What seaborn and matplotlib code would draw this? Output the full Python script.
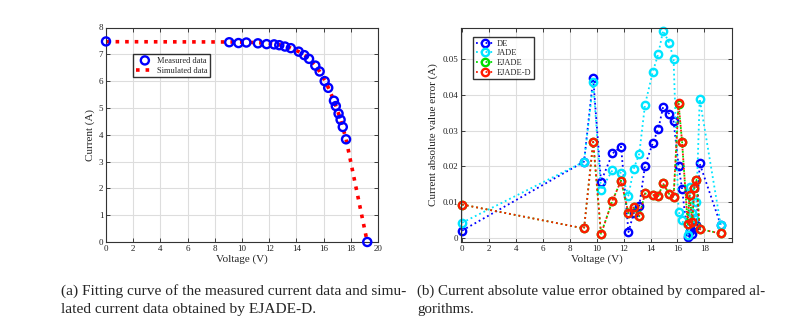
import matplotlib
matplotlib.use('Agg')
import matplotlib.pyplot as plt
import pandas as pd
import seaborn as sns

# Measured I-V data (voltage in V, current in A)
voltage = [0, 9.06, 9.74, 10.32, 11.17, 11.81, 12.36, 12.74, 13.16, 13.59, 14.17, 14.58,
           14.93, 15.39, 15.71, 16.08, 16.34, 16.76, 16.9, 17.1, 17.25, 17.41, 17.65, 19.21]
current_measured = [7.48, 7.45, 7.42, 7.44, 7.41, 7.38, 7.37, 7.34, 7.29, 7.23, 7.10, 6.97,
                    6.83, 6.58, 6.36, 6.00, 5.75, 5.27, 5.07, 4.79, 4.56, 4.29, 3.83, 0.0]
current_simulated = [7.471, 7.460, 7.457, 7.451, 7.434, 7.410, 7.385, 7.358, 7.304, 7.234, 7.100, 6.978,
                     6.845, 6.578, 6.357, 6.035, 5.766, 5.267, 5.074, 4.786, 4.551, 4.276, 3.838, 0.0]

# Absolute current error per algorithm
err_de = [0.0020, 0.0213, 0.0447, 0.0157, 0.0236, 0.0255, 0.0016, 0.0068, 0.0089, 0.0202, 0.0266, 0.0305,
          0.0366, 0.0347, 0.0326, 0.0202, 0.0137, 0.0002, 0.0020, 0.0010, 0.0030, 0.0035, 0.0208, 0.0036]
err_jade = [0.0042, 0.0213, 0.0435, 0.0134, 0.0189, 0.0181, 0.0118, 0.0192, 0.0235, 0.0373, 0.0465, 0.0516,
            0.0580, 0.0546, 0.0500, 0.0073, 0.0050, 0.0008, 0.0141, 0.0068, 0.0054, 0.0100, 0.0389, 0.0036]
err_ejade = [0.0093, 0.0026, 0.0268, 0.0011, 0.0104, 0.0160, 0.0069, 0.0086, 0.0060, 0.0124, 0.0120, 0.0117,
             0.0152, 0.0122, 0.0113, 0.0376, 0.0269, 0.0038, 0.0120, 0.0044, 0.0138, 0.0162, 0.0024, 0.0012]
err_ejade_d = [0.0093, 0.0026, 0.0269, 0.0010, 0.0104, 0.0160, 0.0068, 0.0085, 0.0060, 0.0124, 0.0120, 0.0117,
               0.0152, 0.0122, 0.0113, 0.0377, 0.0269, 0.0038, 0.0121, 0.0043, 0.0138, 0.0162, 0.0024, 0.0012]

sns.set_style('ticks')
plt.rcParams['font.family'] = ['Liberation Serif', 'DejaVu Serif']
plt.rcParams['font.size'] = 6.5

fig = plt.figure(figsize=(7.95, 3.27), dpi=100)
ax1 = fig.add_axes([106 / 795, 1 - 242 / 327, 272 / 795, 214.5 / 327])
ax2 = fig.add_axes([461 / 795, 1 - 242 / 327, 271 / 795, 214.5 / 327])

df = pd.DataFrame({'V': voltage, 'meas': current_measured, 'sim': current_simulated})

# (a) fitting curve
sns.lineplot(data=df, x='V', y='sim', color='red', linestyle=':', linewidth=2.6,
             label='Simulated data', ax=ax1, zorder=2)
sns.scatterplot(data=df, x='V', y='meas', marker='o', s=34, facecolor='none',
                edgecolor='blue', linewidth=1.7, label='Measured data', ax=ax1,
                zorder=3, clip_on=False)
ax1.set_xlim(0, 20)
ax1.set_ylim(0, 8)
ax1.set_xticks(range(0, 21, 2))
ax1.set_yticks(range(0, 9))
ax1.set_xlabel('Voltage (V)', fontsize=8, labelpad=1)
ax1.set_ylabel('Current (A)', fontsize=8, labelpad=3)
h, l = ax1.get_legend_handles_labels()
ax1.legend(h[::-1], l[::-1], loc='upper left', bbox_to_anchor=(0.1, 0.876), fontsize=6,
           frameon=True, fancybox=False, edgecolor='black', borderpad=0.3,
           handlelength=2.2, labelspacing=0.25, handletextpad=0.4, borderaxespad=0)

# (b) error curves
series = [('DE', err_de, '#0000ff'), ('JADE', err_jade, '#00e5ff'),
          ('EJADE', err_ejade, '#00dd00'), ('EJADE-D', err_ejade_d, '#ff1a00')]
for name, vals, col in series:
    sns.lineplot(x=voltage, y=vals, color=col, linestyle=':', linewidth=1.3, marker='o',
                 markersize=5.3, markerfacecolor='none', markeredgecolor=col,
                 markeredgewidth=1.7, label=name, ax=ax2, clip_on=False)
ax2.set_xlim(-0.08, 20.05)
ax2.set_ylim(-0.0012, 0.0589)
ax2.set_xticks(range(0, 19, 2))
ax2.set_yticks([0, 0.01, 0.02, 0.03, 0.04, 0.05])
ax2.set_yticklabels(['0', '0.01', '0.02', '0.03', '0.04', '0.05'])
ax2.set_xlabel('Voltage (V)', fontsize=8, labelpad=1)
ax2.set_ylabel('Current absolute value error (A)', fontsize=8, labelpad=3)
ax2.legend(loc='upper left', bbox_to_anchor=(0.045, 0.955), fontsize=6,
           frameon=True, fancybox=False, edgecolor='black', borderpad=0.3,
           handlelength=2.2, labelspacing=0.2, handletextpad=0.3, borderaxespad=0)

for ax in (ax1, ax2):
    ax.grid(True, color='#dddddd', linewidth=0.8)
    ax.tick_params(direction='in', top=True, right=True, length=3, width=0.6,
                   labelsize=6.5, pad=2, colors='#222222')
    for sp in ax.spines.values():
        sp.set_color('#333333')
        sp.set_linewidth(0.8)

# captions
fig.text(61 / 795, 1 - 291 / 327, '(a) Fitting curve of the measured current data and simu-',
         fontsize=11.1, va='center', ha='left')
fig.text(61 / 795, 1 - 309 / 327, 'lated current data obtained by EJADE-D.',
         fontsize=11.1, va='center', ha='left')
fig.text(417 / 795, 1 - 291 / 327, '(b) Current absolute value error obtained by compared al-',
         fontsize=10.8, va='center', ha='left')
fig.text(417 / 795, 1 - 309 / 327, 'gorithms.',
         fontsize=10.8, va='center', ha='left')

fig.savefig('out.png', dpi=100)
